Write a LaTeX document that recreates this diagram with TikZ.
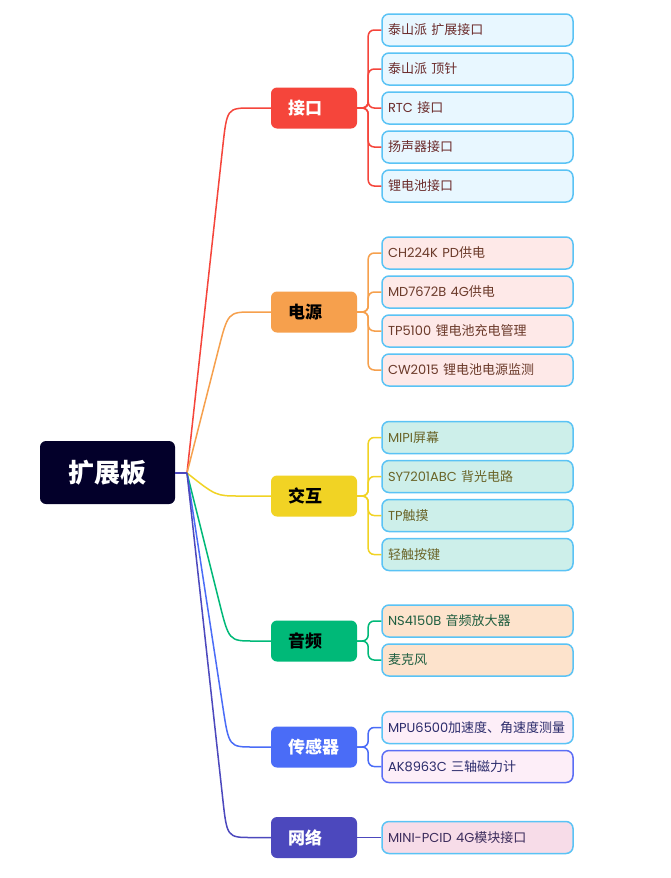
\documentclass[tikz,border=0pt]{standalone}
\usepackage{fontspec}
\setmainfont{Poppins}
\newfontfamily\cjk{Noto Sans CJK SC}
\usetikzlibrary{calc}
\definecolor{rootc}{HTML}{03002A}
\definecolor{cred}{HTML}{F5453B}
\definecolor{corange}{HTML}{F6A04D}
\definecolor{cyellow}{HTML}{F1D324}
\definecolor{cgreen}{HTML}{00B978}
\definecolor{cblue}{HTML}{4A6CF7}
\definecolor{cindigo}{HTML}{4C48BD}
\definecolor{fif}{HTML}{E8F7FF}
\definecolor{fpow}{HTML}{FEE9E8}
\definecolor{fint}{HTML}{CDEFEA}
\definecolor{faud}{HTML}{FDE3CC}
\definecolor{fsen}{HTML}{FDEEF8}
\definecolor{fnet}{HTML}{F7DCE8}
\definecolor{leafb}{HTML}{5AC3F5}
\definecolor{leafb2}{HTML}{5B6EF5}
\definecolor{tif}{HTML}{6B2B2B}
\definecolor{tpow}{HTML}{6B3A2A}
\definecolor{tint}{HTML}{6A6428}
\definecolor{taud}{HTML}{1F5E40}
\definecolor{tsen}{HTML}{2B2B6B}
\definecolor{tnet}{HTML}{3B2B5B}
\begin{document}
\begin{tikzpicture}[x=1pt,y=-1pt,
  rootbox/.style={fill=rootc, rounded corners=6pt, minimum width=135pt, minimum height=63pt, inner sep=0pt, text=white, font=\cjk\bfseries\fontsize{26}{30}\selectfont},
  catbox/.style={rounded corners=6pt, text width=52pt, inner xsep=17pt, inner ysep=0pt, minimum height=41pt, align=left, font=\cjk\bfseries\fontsize{17}{20}\selectfont},
  leafbox/.style={draw=leafb, line width=1.5pt, rounded corners=7pt, text width=179pt, inner xsep=6pt, inner ysep=0pt, minimum height=32pt, align=left, font=\fontsize{13}{15}\selectfont},
  branch/.style={line width=1.5pt},
  twig/.style={line width=1.5pt, rounded corners=6pt}]
\useasboundingbox (0,0) rectangle (670,878);
\fill[white] (0,0) rectangle (670,878);

% root
\node[rootbox] (root) at (107.5,472.5) {扩展板};

% categories
\node[catbox, fill=cred, text=white] (c1) at (314,108) {接口};
\node[catbox, fill=corange, text=black] (c2) at (314,312) {电源};
\node[catbox, fill=cyellow, text=black] (c3) at (314,496) {交互};
\node[catbox, fill=cgreen, text=black] (c4) at (314,641) {音频};
\node[catbox, fill=cblue, text=white] (c5) at (314,747) {传感器};
\node[catbox, fill=cindigo, text=white] (c6) at (314,837.5) {网络};

% leaves
\node[leafbox, fill=fif, text=tif] (l11) at (477.5,30) {\cjk 泰山派 扩展接口};
\node[leafbox, fill=fif, text=tif] (l12) at (477.5,69) {\cjk 泰山派 顶针};
\node[leafbox, fill=fif, text=tif] (l13) at (477.5,108) {RTC {\cjk 接口}};
\node[leafbox, fill=fif, text=tif] (l14) at (477.5,147) {\cjk 扬声器接口};
\node[leafbox, fill=fif, text=tif] (l15) at (477.5,186) {\cjk 锂电池接口};

\node[leafbox, fill=fpow, text=tpow] (l21) at (477.5,253) {CH224K PD{\cjk 供电}};
\node[leafbox, fill=fpow, text=tpow] (l22) at (477.5,292) {MD7672B 4G{\cjk 供电}};
\node[leafbox, fill=fpow, text=tpow] (l23) at (477.5,331) {TP5100 {\cjk 锂电池充电管理}};
\node[leafbox, fill=fpow, text=tpow] (l24) at (477.5,370) {CW2015 {\cjk 锂电池电源监测}};

\node[leafbox, fill=fint, text=tint] (l31) at (477.5,437.5) {MIPI{\cjk 屏幕}};
\node[leafbox, fill=fint, text=tint] (l32) at (477.5,476.5) {SY7201ABC {\cjk 背光电路}};
\node[leafbox, fill=fint, text=tint] (l33) at (477.5,515.5) {TP{\cjk 触摸}};
\node[leafbox, fill=fint, text=tint] (l34) at (477.5,554.5) {\cjk 轻触按键};

\node[leafbox, fill=faud, text=taud] (l41) at (477.5,621) {NS4150B {\cjk 音频放大器}};
\node[leafbox, fill=faud, text=taud] (l42) at (477.5,660) {\cjk 麦克风};

\node[leafbox, fill=fsen, text=tsen] (l51) at (477.5,727.5) {MPU6500{\cjk 加速度、角速度测量}};
\node[leafbox, fill=fsen, text=tsen, draw=leafb2] (l52) at (477.5,766.5) {AK8963C {\cjk 三轴磁力计}};

\node[leafbox, fill=fnet, text=tnet] (l61) at (477.5,837.5) {MINI-PCID 4G{\cjk 模块接口}};

% branch points
\coordinate (S) at (187,473);
\coordinate (k1) at (227,108);
\coordinate (k2) at (228,312);
\coordinate (k3) at (216,496);
\coordinate (k4) at (229,641);
\coordinate (k5) at (229,747);
\coordinate (k6) at (227,837.5);

\draw[branch, cred] (S) -- ($(k1)!40pt!(S)$) .. controls (k1) .. ($(k1)+(25,0)$) -- (c1.west);
\draw[branch, corange] (S) -- ($(k2)!40pt!(S)$) .. controls (k2) .. ($(k2)+(25,0)$) -- (c2.west);
\draw[branch, cyellow] (S) .. controls (k3) .. ($(k3)+(24,0)$) -- (c3.west);
\draw[branch, cgreen] (S) -- ($(k4)!40pt!(S)$) .. controls (k4) .. ($(k4)+(25,0)$) -- (c4.west);
\draw[branch, cblue] (S) -- ($(k5)!40pt!(S)$) .. controls (k5) .. ($(k5)+(25,0)$) -- (c5.west);
\draw[branch, cindigo] (S) -- ($(k6)!40pt!(S)$) .. controls (k6) .. ($(k6)+(25,0)$) -- (c6.west);
\draw[branch, cindigo] (root.east |- S) -- (S);

% twigs
\foreach \l in {l11,l12,l13,l14,l15}{\draw[twig, cred] (c1.east) -- ++(11,0) |- (\l.west);}
\foreach \l in {l21,l22,l23,l24}{\draw[twig, corange] (c2.east) -- ++(11,0) |- (\l.west);}
\foreach \l in {l31,l32,l33,l34}{\draw[twig, cyellow] (c3.east) -- ++(11,0) |- (\l.west);}
\foreach \l in {l41,l42}{\draw[twig, cgreen] (c4.east) -- ++(11,0) |- (\l.west);}
\foreach \l in {l51,l52}{\draw[twig, cblue] (c5.east) -- ++(11,0) |- (\l.west);}
\draw[twig, cindigo] (c6.east) -- (l61.west);
\end{tikzpicture}
\end{document}
